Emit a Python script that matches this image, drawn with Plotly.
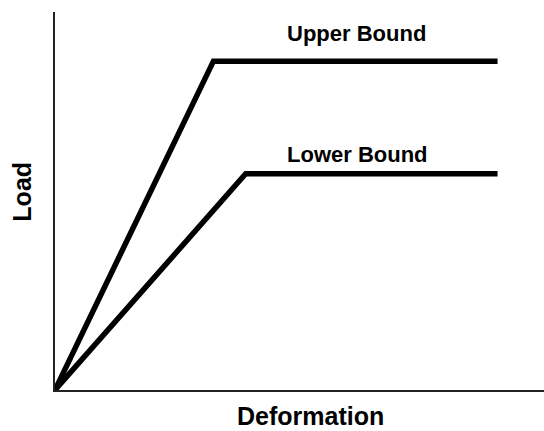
import plotly.graph_objects as go

# Idealised load-deformation envelopes (arbitrary units)
upper_deformation = [0.0, 3.24, 9.05]
upper_load = [0.0, 8.7, 8.7]

lower_deformation = [0.0, 3.9, 9.05]
lower_load = [0.0, 5.72, 5.72]

curve_names = ["Upper Bound", "Lower Bound"]
label_deformation = [6.17, 6.19]
label_load = [9.42, 6.22]

x_title = "Deformation"
y_title = "Load"

FONT = "Liberation Sans, Arial, sans-serif"

fig = go.Figure()
for xs, ys, name in [(upper_deformation, upper_load, curve_names[0]),
                     (lower_deformation, lower_load, curve_names[1])]:
    fig.add_trace(go.Scatter(
        x=xs, y=ys, mode="lines", name=name,
        line=dict(color="black", width=5.5),
        hoverinfo="skip", showlegend=False,
    ))

for name, lx, ly in zip(curve_names, label_deformation, label_load):
    fig.add_annotation(
        x=lx, y=ly, xref="x", yref="y", text=f"<b>{name}</b>",
        showarrow=False, xanchor="center", yanchor="middle",
        font=dict(family=FONT, size=22, color="black"),
    )

fig.add_annotation(
    x=0.5235, y=-0.0675, xref="paper", yref="paper", text=f"<b>{x_title}</b>",
    showarrow=False, xanchor="center", yanchor="middle",
    font=dict(family=FONT, size=25, color="black"),
)
fig.add_annotation(
    x=-0.0665, y=0.526, xref="paper", yref="paper", text=f"<b>{y_title}</b>",
    showarrow=False, xanchor="center", yanchor="middle", textangle=-90,
    font=dict(family=FONT, size=25, color="black"),
)

axis_style = dict(
    showline=True, linecolor="#222", linewidth=2, mirror=False,
    showgrid=False, zeroline=False, showticklabels=False, ticks="",
    fixedrange=True,
)

fig.update_layout(
    width=544, height=431,
    margin=dict(l=55, r=0, t=12, b=41),
    paper_bgcolor="white", plot_bgcolor="white",
    xaxis=dict(range=[0, 10], **axis_style),
    yaxis=dict(range=[0, 10], **axis_style),
)

fig.write_html("out.html")
